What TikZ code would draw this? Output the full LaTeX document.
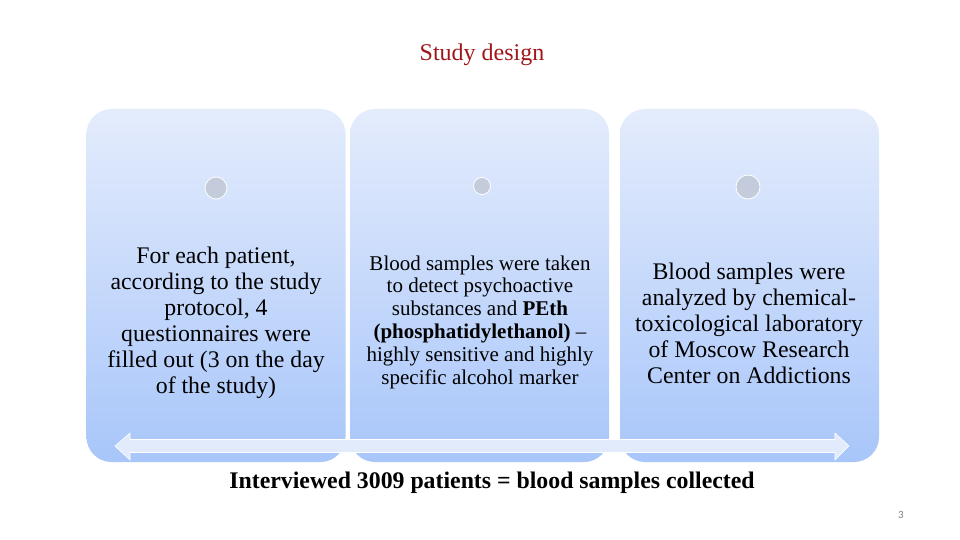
\documentclass[tikz,border=0pt]{standalone}
\usepackage{fontspec}
\setmainfont{Liberation Serif}
\newfontfamily\pagefont{Carlito}
\usetikzlibrary{shapes.geometric}
\definecolor{boxtop}{RGB}{228,236,252}
\definecolor{boxbot}{RGB}{168,198,250}
\definecolor{dotfill}{RGB}{196,204,220}
\definecolor{arrowfill}{RGB}{226,235,252}
\definecolor{titlered}{RGB}{160,22,26}
\tikzset{
  panel/.style={rounded corners=25pt, top color=boxtop, bottom color=boxbot, draw=none,
    minimum width=259pt, minimum height=353pt, inner sep=0pt},
  dot/.style={circle, fill=dotfill, draw=white, line width=0.8pt, inner sep=0pt},
  bodytext/.style={align=center, text=black, inner sep=0pt},
}
\begin{document}
\begin{tikzpicture}[x=1pt,y=-1pt]
\useasboundingbox (0,0) rectangle (960,540);
\fill[white] (0,0) rectangle (960,540);
\node[text=titlered, font=\fontsize{24}{28}\selectfont] (title) at (482,55) {Study design};
\node[panel] (p1) at (216,285.5) {};
\node[panel] (p2) at (479.5,285.5) {};
\node[panel] (p3) at (749.5,285.5) {};
\node[dot, minimum size=22pt] (d1) at (216,188) {};
\node[dot, minimum size=17pt] (d2) at (482,186) {};
\node[dot, minimum size=24pt] (d3) at (748,187) {};
\node[bodytext, font=\fontsize{23.8}{26}\selectfont] (t1) at (216,323) {For each patient,\\according to the study\\protocol, 4\\questionnaires were\\filled out (3 on the day\\of the study)};
\node[bodytext, font=\fontsize{21}{22.8}\selectfont] (t2) at (480,322) {Blood samples were taken\\to detect psychoactive\\substances and \textbf{PEth}\\\textbf{(phosphatidylethanol)} --\\highly sensitive and highly\\specific alcohol marker};
\node[bodytext, font=\fontsize{23.8}{26}\selectfont] (t3) at (749,323) {Blood samples were\\analyzed by chemical-\\toxicological laboratory\\of Moscow Research\\Center on Addictions};
\fill[arrowfill, draw=white, line width=0.6pt] (115,446) -- (130,433) -- (130,439.5) -- (835,439.5) -- (835,433) -- (849,446) -- (835,460) -- (835,452.5) -- (130,452.5) -- (130,460) -- cycle;
\node[bodytext, font=\fontsize{23.8}{26}\selectfont\bfseries] (bottom) at (492,483) {Interviewed 3009 patients = blood samples collected};
\node[text=gray, font=\pagefont\fontsize{11}{13}\selectfont] (pg) at (901,515) {3};
\end{tikzpicture}
\end{document}
